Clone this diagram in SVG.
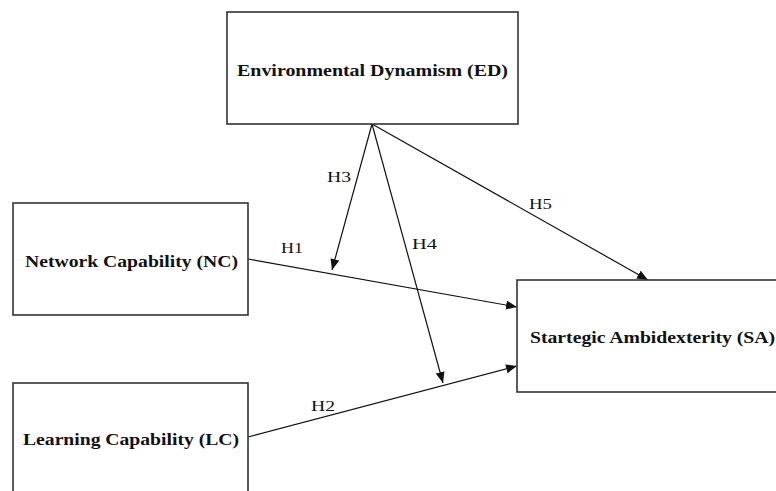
<svg xmlns="http://www.w3.org/2000/svg" width="776" height="491" viewBox="0 0 776 491">
<style>
.box{fill:#fff;stroke:#333;stroke-width:1.6}
.nt{font-family:"Liberation Serif","Times New Roman",serif;font-weight:bold;font-size:16px;fill:#111}
.hl{font-family:"Liberation Serif","Times New Roman",serif;font-size:15px;fill:#111}
.ed{fill:none;stroke:#111;stroke-width:1.2;marker-end:url(#ah)}
</style>
<defs>
<marker id="ah" markerUnits="userSpaceOnUse" markerWidth="12" markerHeight="10" refX="11" refY="4.5" orient="auto">
<path d="M0,0 L11,4.5 L0,9 z" fill="#111"/>
</marker>
</defs>
<rect width="776" height="491" fill="#fff"/>
<g id="connectors">
<line class="ed" x1="372" y1="124" x2="332" y2="270"/>
<line class="ed" x1="372" y1="124" x2="443" y2="383"/>
<line class="ed" x1="372" y1="124" x2="648" y2="280"/>
<line class="ed" x1="248" y1="259" x2="517" y2="307"/>
<line class="ed" x1="248" y1="437" x2="517" y2="366"/>
<text class="hl" x="327" y="182" textLength="24" lengthAdjust="spacingAndGlyphs">H3</text>
<text class="hl" x="412" y="249" textLength="25" lengthAdjust="spacingAndGlyphs">H4</text>
<text class="hl" x="529" y="209" textLength="23" lengthAdjust="spacingAndGlyphs">H5</text>
<text class="hl" x="281" y="253" textLength="22" lengthAdjust="spacingAndGlyphs">H1</text>
<text class="hl" x="311" y="411" textLength="24" lengthAdjust="spacingAndGlyphs">H2</text>
</g>
<g id="ED">
<rect class="box" x="227" y="12" width="291" height="112"/>
<text class="nt" x="237" y="76" textLength="271" lengthAdjust="spacingAndGlyphs">Environmental Dynamism (ED)</text>
</g>
<g id="NC">
<rect class="box" x="13" y="203" width="235" height="112"/>
<text class="nt" x="25" y="267" textLength="213" lengthAdjust="spacingAndGlyphs">Network Capability (NC)</text>
</g>
<g id="LC">
<rect class="box" x="13" y="383" width="235" height="130"/>
<text class="nt" x="23" y="445" textLength="216" lengthAdjust="spacingAndGlyphs">Learning Capability (LC)</text>
</g>
<g id="SA">
<rect class="box" x="517" y="280" width="290" height="112"/>
<text class="nt" x="530" y="343" textLength="245" lengthAdjust="spacingAndGlyphs">Startegic Ambidexterity (SA)</text>
</g>
</svg>
